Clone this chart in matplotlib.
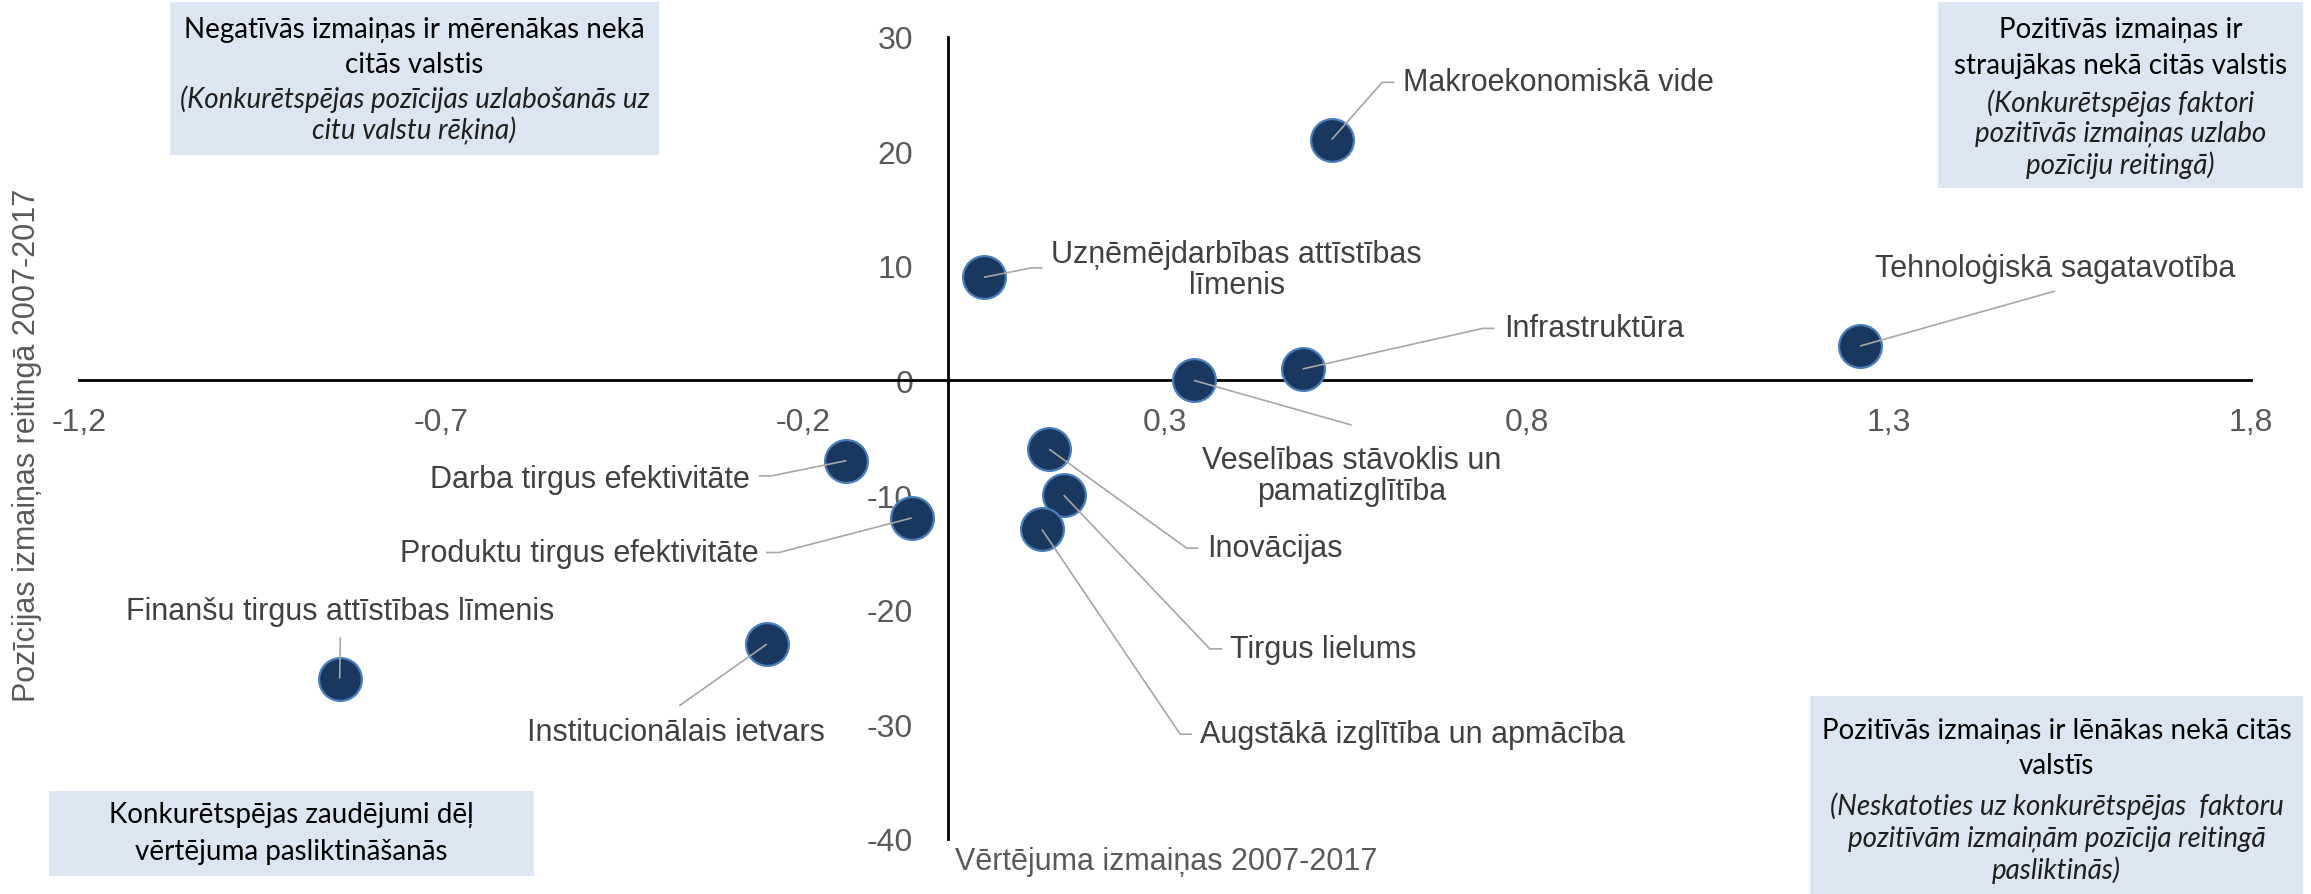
import matplotlib
matplotlib.use("Agg")
import matplotlib.pyplot as plt
from matplotlib import font_manager
from matplotlib.patches import Rectangle
from matplotlib.ticker import FixedLocator, FuncFormatter

## DATI ##
faktori = [
    "Makroekonomiskā vide",
    "Uzņēmējdarbības attīstības līmenis",
    "Tehnoloģiskā sagatavotība",
    "Infrastruktūra",
    "Veselības stāvoklis un pamatizglītība",
    "Darba tirgus efektivitāte",
    "Produktu tirgus efektivitāte",
    "Inovācijas",
    "Tirgus lielums",
    "Augstākā izglītība un apmācība",
    "Institucionālais ietvars",
    "Finanšu tirgus attīstības līmenis",
]
vertejuma_izmainas = [0.53, 0.05, 1.26, 0.49, 0.34, -0.14, -0.05, 0.14, 0.16, 0.13, -0.25, -0.84]
pozicijas_izmainas = [21, 9, 3, 1, 0, -7, -12, -6, -10, -13, -23, -26]

x_ticks = [-1.2, -0.7, -0.2, 0.3, 0.8, 1.3, 1.8]
y_ticks = [-40, -30, -20, -10, 0, 10, 20, 30]

x_title = "Vērtējuma izmaiņas 2007-2017"
y_title = "Pozīcijas izmaiņas reitingā 2007-2017"

# kvadrantu skaidrojumi: (virsraksts, slīpraksts)
box_kreisi_augsa = (["Negatīvās izmaiņas ir mērenākas nekā", "citās valstis"],
                    ["(Konkurētspējas pozīcijas uzlabošanās uz", "citu valstu rēķina)"])
box_labi_augsa = (["Pozitīvās izmaiņas ir", "straujākas nekā citās valstis"],
                  ["(Konkurētspējas faktori", "pozitīvās izmaiņas uzlabo", "pozīciju reitingā)"])
box_labi_apaksa = (["Pozitīvās izmaiņas ir lēnākas nekā citās", "valstīs"],
                   ["(Neskatoties uz konkurētspējas  faktoru", "pozitīvām izmaiņām pozīcija reitingā",
                    "pasliktinās)"])
box_kreisi_apaksa = (["Konkurētspējas zaudējumi dēļ", "vērtējuma pasliktināšanās"], [])


def pick_font(names):
    for n in names:
        try:
            font_manager.findfont(n, fallback_to_default=False)
            return n
        except ValueError:
            pass
    return "DejaVu Sans"


NARROW = pick_font(["Liberation Sans Narrow", "Arial Narrow"])
if NARROW == "DejaVu Sans":
    NARROW = "Liberation Sans"
    LBL_SIZE = 22
    TICK_SIZE = 23
else:
    LBL_SIZE = 26
    TICK_SIZE = 26
BOX_FONT = pick_font(["Lato", "Open Sans"])

# etiķešu izvietojums (datu koordinātēs) un līniju lauzumi
layout = [
    dict(text="Makroekonomiskā vide", xy=(0.629, 26.0), ha="left",
         path=[(0.600, 26.0), (0.617, 26.0)]),
    dict(text="Uzņēmējdarbības attīstības\nlīmenis", xy=(0.399, 9.67), ha="center",
         path=[(0.116, 9.82), (0.131, 9.82)]),
    dict(text="Tehnoloģiskā sagatavotība", xy=(1.529, 9.79), ha="center",
         path=[(1.529, 7.79)]),
    dict(text="Infrastruktūra", xy=(0.768, 4.54), ha="left",
         path=[(0.739, 4.54), (0.755, 4.54)]),
    dict(text="Veselības stāvoklis un\npamatizglītība", xy=(0.558, -8.32), ha="center",
         path=[(0.558, -3.9)]),
    dict(text="Darba tirgus efektivitāte", xy=(-0.273, -8.59), ha="right",
         path=[(-0.244, -8.33), (-0.261, -8.33)]),
    dict(text="Produktu tirgus efektivitāte", xy=(-0.261, -15.08), ha="right",
         path=[(-0.233, -15.01), (-0.251, -15.01)]),
    dict(text="Inovācijas", xy=(0.358, -14.63), ha="left",
         path=[(0.330, -14.63), (0.346, -14.63)]),
    dict(text="Tirgus lielums", xy=(0.390, -23.42), ha="left",
         path=[(0.362, -23.42), (0.379, -23.42)]),
    dict(text="Augstākā izglītība un apmācība", xy=(0.348, -30.86), ha="left",
         path=[(0.321, -30.86), (0.337, -30.86)]),
    dict(text="Institucionālais ietvars", xy=(-0.375, -30.7), ha="center",
         path=[(-0.371, -28.38)]),
    dict(text="Finanšu tirgus attīstības līmenis", xy=(-0.839, -20.15), ha="center",
         path=[(-0.839, -22.4)]),
]

W, H = 2311, 895
fig = plt.figure(figsize=(W / 100, H / 100), dpi=100)
ax = fig.add_axes([79 / W, (H - 840) / H, (2251 - 79) / W, (840 - 37.5) / H])

ax.scatter(vertejuma_izmainas, pozicijas_izmainas, s=950, color="#1A3760",
           edgecolor="#4A7EBB", linewidth=1.6, zorder=3)

for xv, yv, lay in zip(vertejuma_izmainas, pozicijas_izmainas, layout):
    px = [xv] + [p[0] for p in lay["path"]]
    py = [yv] + [p[1] for p in lay["path"]]
    ax.plot(px, py, color="#A6A6A6", lw=1.2, zorder=4, solid_capstyle="butt")
    ax.text(lay["xy"][0], lay["xy"][1], lay["text"], ha=lay["ha"], va="center",
            multialignment="center", fontsize=LBL_SIZE, family=NARROW,
            color="#404040", linespacing=1.05, zorder=5)

ax.set_xlim(-1.2, 1.8)
ax.set_ylim(-40, 30)
for s in ["top", "right"]:
    ax.spines[s].set_visible(False)
ax.spines["left"].set_position(("data", 0))
ax.spines["bottom"].set_position(("data", 0))
for s in ["left", "bottom"]:
    ax.spines[s].set_linewidth(2.0)
    ax.spines[s].set_color("black")
    ax.spines[s].set_zorder(2)

ax.xaxis.set_major_locator(FixedLocator(x_ticks))
ax.yaxis.set_major_locator(FixedLocator(y_ticks))
ax.xaxis.set_major_formatter(FuncFormatter(lambda v, p: f"{v:.1f}".replace(".", ",")))
ax.yaxis.set_major_formatter(FuncFormatter(lambda v, p: f"{v:.0f}"))
ax.tick_params(axis="x", length=0, pad=19, labelsize=TICK_SIZE, labelcolor="#595959")
ax.tick_params(axis="y", length=0, pad=25, labelsize=TICK_SIZE, labelcolor="#595959")
for lab in ax.get_xticklabels() + ax.get_yticklabels():
    lab.set_family(NARROW)

fig.text(955 / W, 1 - 862 / H, x_title, ha="left", va="center", fontsize=LBL_SIZE,
         family=NARROW, color="#595959")
fig.text(27 / W, 1 - 445 / H, y_title, ha="center", va="center", rotation=90,
         fontsize=LBL_SIZE, family=NARROW, color="#595959")


## KVADRANTU SKAIDROJUMI ##
def draw_box(x0, y0, x1, y1, content, line_ys, size=20):
    fig.patches.append(Rectangle((x0 / W, 1 - y1 / H), (x1 - x0) / W, (y1 - y0) / H,
                                 transform=fig.transFigure, facecolor="#DCE6F2",
                                 edgecolor="none", zorder=0))
    head, body = content
    cx = (x0 + x1) / 2 / W
    lines = [(t, "normal") for t in head] + [(t, "italic") for t in body]
    for (t, style), yy in zip(lines, line_ys):
        fig.text(cx, 1 - yy / H, t, ha="center", va="center", fontsize=size,
                 family=BOX_FONT, style=style, color="#1F1F1F" if style == "italic" else "black")


draw_box(170, 3, 659, 156, box_kreisi_augsa, [30, 65, 99, 131])
draw_box(1938, 3, 2303, 189, box_labi_augsa, [30, 66, 103, 134, 165])
draw_box(1810, 697, 2303, 895, box_labi_apaksa, [731, 766, 806, 839, 870])
draw_box(49, 792, 534, 877, box_kreisi_apaksa, [815, 852])

fig.savefig("out.png", dpi=100)
